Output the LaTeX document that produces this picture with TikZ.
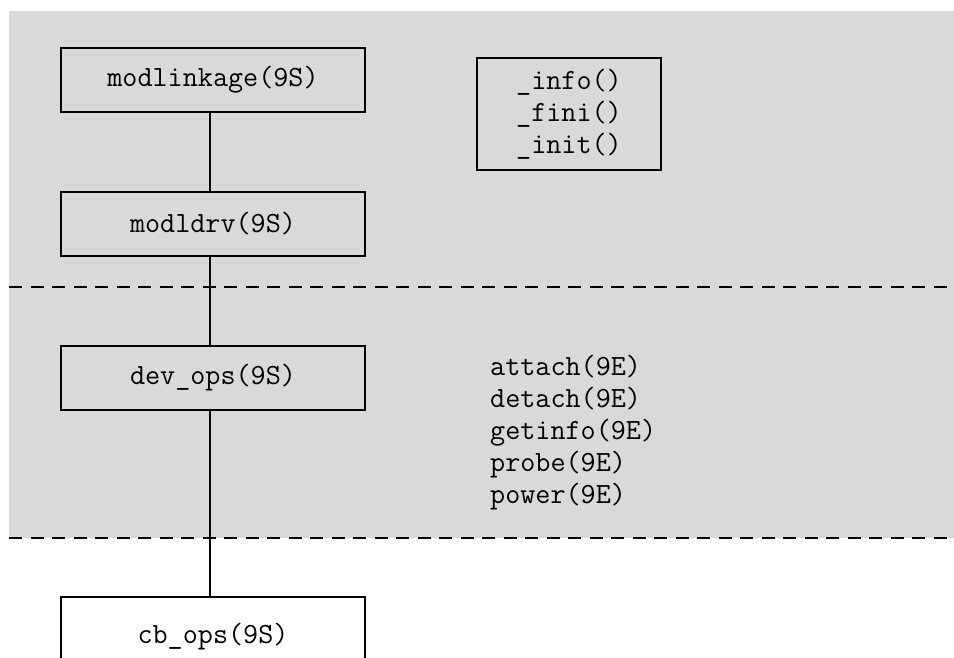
\documentclass[tikz,border=0pt]{standalone}
\usepackage{fontspec}
\definecolor{bggray}{HTML}{D9D9D9}
\begin{document}
\begin{tikzpicture}[x=1pt,y=-1pt,
  codefont/.style={font=\ttfamily\fontsize{29.3pt}{32pt}\selectfont},
  box/.style={draw, line width=1.1pt, minimum width=304pt, minimum height=64pt, inner sep=0pt, codefont},
  link/.style={draw, line width=1.1pt},
  divider/.style={draw, line width=1.3pt, dash pattern=on 13pt off 8.5pt}]
  \useasboundingbox (0,0) rectangle (954,658);
  \fill[bggray] (9,11) rectangle (954,538);
  \draw[divider] (9,287) -- (954,287);
  \draw[divider] (9,538) -- (954,538);
  \coordinate (xl) at (210,0);
  \node[box] (linkage) at (213,80) {modlinkage(9S)};
  \node[box] (ldrv) at (213,224) {modldrv(9S)};
  \node[box] (devops) at (213,378) {dev\_ops(9S)};
  \node[box, minimum height=80pt] (cbops) at (213,637) {cb\_ops(9S)};
  \node[draw, line width=1.1pt, minimum width=184pt, minimum height=112pt, inner sep=0pt, align=center, codefont] (info) at (569,114) {\_info()\\\_fini()\\\_init()};
  \node[codefont, align=left, anchor=west, inner sep=0pt] (entries) at (490,433) {attach(9E)\\detach(9E)\\getinfo(9E)\\probe(9E)\\power(9E)};
  \draw[link] (linkage.south -| xl) -- (ldrv.north -| xl);
  \draw[link] (ldrv.south -| xl) -- (devops.north -| xl);
  \draw[link] (devops.south -| xl) -- (cbops.north -| xl);
\end{tikzpicture}
\end{document}
